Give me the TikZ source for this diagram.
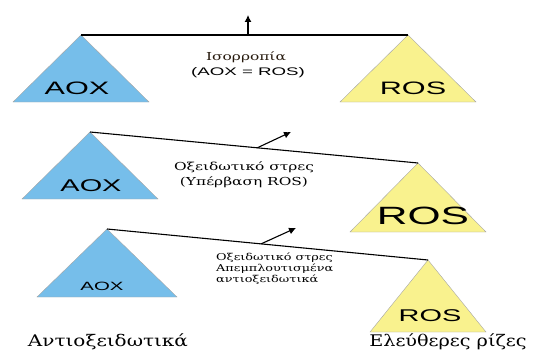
\documentclass[tikz,border=0pt]{standalone}
\usepackage{fontspec}
\setmainfont{DejaVu Serif}
\setsansfont{Liberation Sans}
\usetikzlibrary{arrows.meta,calc}
\definecolor{aoxblue}{RGB}{118,190,234}
\definecolor{rosyellow}{RGB}{249,242,142}
\newcommand{\wide}[2][1.7]{\scalebox{#1}[1]{#2}}

\begin{document}
\begin{tikzpicture}[x=1pt,y=-1pt]
	\useasboundingbox (0,0) rectangle (537,350);
	\tikzset{
		aox/.style={fill=aoxblue,draw=gray!70,thin},
		ros/.style={fill=rosyellow,draw=gray!70,thin},
		beam/.style={line width=1.1pt},
		tilt/.style={-{Latex[length=7pt,width=7pt]},line width=1.1pt},
		lbl/.style={font=\sffamily,inner sep=0pt},
		txt/.style={align=center,inner sep=0pt}
	}
	
	% balance 1: equilibrium
	\coordinate (aoxtop1) at (81,35);
	\coordinate (rostop1) at (408,35);
	\draw[aox] (aoxtop1) -- ++(-68,67) -- ++(136,0) -- cycle;
	\draw[ros] (rostop1) -- ++(-68,67) -- ++(136,0) -- cycle;
	\draw[beam] (aoxtop1) -- (rostop1);
	\coordinate (pivot1) at (248,35);
	\coordinate (tip1) at (248,15);
	\draw[tilt] (pivot1) -- (tip1);
	\node[lbl,font=\sffamily\fontsize{18}{18}\selectfont] (aox1) at (77,88) {\wide{AOX}};
	\node[lbl,font=\sffamily\fontsize{18}{18}\selectfont] (ros1) at (413,88) {\wide{ROS}};
	\node[txt,font=\fontsize{11}{11}\selectfont,text=black!80!brown] (eq1) at (246,57) {\wide[1.4]{Ισορροπία}};
	\node[lbl,font=\sffamily\fontsize{11}{11}\selectfont] (eq2) at (248,73) {\wide{(AOX = ROS)}};
	
	% balance 2: oxidative stress, excess ROS
	\coordinate (aoxtop2) at (90,132);
	\coordinate (rostop2) at (418,163);
	\draw[aox] (aoxtop2) -- ++(-68,67) -- ++(136,0) -- cycle;
	\draw[ros] (rostop2) -- ++(-68,69) -- ++(136,0) -- cycle;
	\draw[beam] (aoxtop2) -- (rostop2);
	\coordinate (pivot2) at ($(aoxtop2)!0.51!(rostop2)$);
	\coordinate (tip2) at (291,132);
	\draw[tilt] (pivot2) -- (tip2);
	\node[lbl,font=\sffamily\fontsize{17}{17}\selectfont] (aox2) at (91,186) {\wide{AOX}};
	\node[lbl,font=\sffamily\fontsize{25}{25}\selectfont] (ros2) at (423,216) {\wide{ROS}};
	\node[txt,font=\fontsize{11}{15}\selectfont] (stress2) at (244,175) {\wide[1.4]{Οξειδωτικό στρες}\\\wide[1.4]{(Υπέρβαση ROS)}};
	
	% balance 3: oxidative stress, depleted antioxidants
	\coordinate (aoxtop3) at (107,229);
	\coordinate (rostop3) at (428,260);
	\draw[aox] (aoxtop3) -- ++(-70,68) -- ++(140,0) -- cycle;
	\draw[ros] (rostop3) -- ++(-58,72) -- ++(116,0) -- cycle;
	\draw[beam] (aoxtop3) -- (rostop3);
	\coordinate (pivot3) at ($(aoxtop3)!0.48!(rostop3)$);
	\coordinate (tip3) at (296,228);
	\draw[tilt] (pivot3) -- (tip3);
	\node[lbl,font=\sffamily\fontsize{12}{12}\selectfont] (aox3) at (102,286) {\wide{AOX}};
	\node[lbl,font=\sffamily\fontsize{17}{17}\selectfont] (ros3) at (430,316) {\wide{ROS}};
	\node[txt,align=left,anchor=north west,font=\fontsize{9.5}{11}\selectfont] (stress3) at (216,253)
		{\wide[1.35]{Οξειδωτικό στρες}\\\wide[1.35]{Απεμπλουτισμένα}\\\wide[1.35]{αντιοξειδωτικά}};
	
	% captions
	\node[txt,font=\fontsize{16}{16}\selectfont] (antiox) at (108,342) {\wide[1.25]{Αντιοξειδωτικά}};
	\node[txt,font=\fontsize{16}{16}\selectfont] (radicals) at (448,342) {\wide[1.2]{Ελεύθερες ρίζες}};
\end{tikzpicture}
\end{document}
